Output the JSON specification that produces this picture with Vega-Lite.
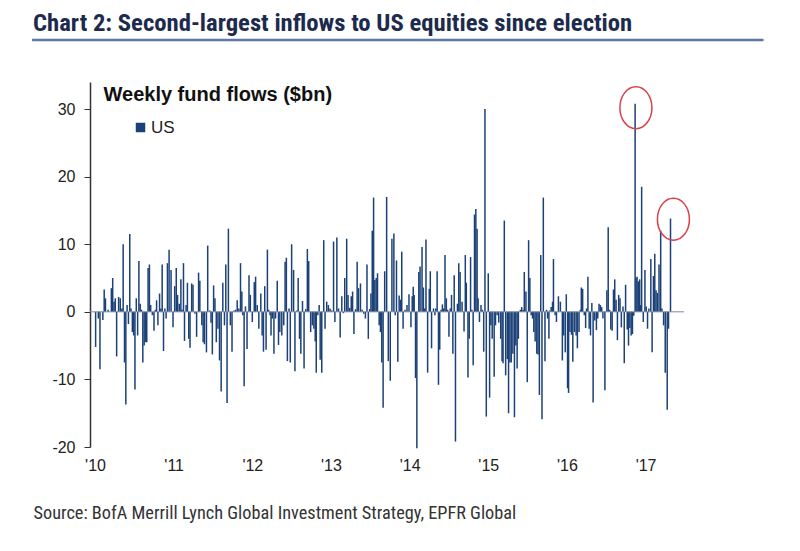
{
"$schema": "https://vega.github.io/schema/vega-lite/v6.json",
"width": 594, "height": 365,
"autosize": {"type": "none"},
"padding": {"left": 90, "top": 82, "right": 116, "bottom": 104},
"background": "white",
"config": {"view": {"stroke": null}, "font": "Liberation Sans"},
"title": {"text": "Chart 2: Second-largest inflows to US equities since election", "anchor": "start", "frame": "group", "dx": -57, "offset": -17, "baseline": "alphabetic", "font": "Liberation Sans Narrow, Roboto Condensed, Liberation Sans", "fontWeight": "bold", "fontSize": 24.7, "color": "#1c2b4d"},
"datasets": {
"one": [{}],
"circles": [{"t": 2016.877, "v": 30.2}, {"t": 2017.354, "v": 13.7}],
"flows": [
{"t":2010.008,"v":-5.2},{"t":2010.042,"v":-1},{"t":2010.063,"v":-8.5},{"t":2010.100,"v":-1.2},{"t":2010.117,"v":3.3},{"t":2010.133,"v":2},{"t":2010.167,"v":0.3},{"t":2010.208,"v":3.5},{"t":2010.225,"v":5},{"t":2010.242,"v":1.5},{"t":2010.258,"v":2},{"t":2010.275,"v":-6.6},{"t":2010.300,"v":2.2},{"t":2010.321,"v":2},{"t":2010.342,"v":0.5},{"t":2010.358,"v":10},{"t":2010.375,"v":-7.5},{"t":2010.392,"v":-13.7},{"t":2010.408,"v":1},{"t":2010.425,"v":-1.8},{"t":2010.442,"v":11.5},{"t":2010.458,"v":0.5},{"t":2010.475,"v":-3},{"t":2010.492,"v":-3.5},{"t":2010.508,"v":-11.5},{"t":2010.525,"v":2},{"t":2010.542,"v":-3.5},{"t":2010.558,"v":7.5},{"t":2010.575,"v":1.2},{"t":2010.592,"v":0.3},{"t":2010.608,"v":-7.5},{"t":2010.625,"v":-5},{"t":2010.642,"v":-4.5},{"t":2010.658,"v":-4.5},{"t":2010.675,"v":6.5},{"t":2010.692,"v":7},{"t":2010.708,"v":1},{"t":2010.729,"v":-0.5},{"t":2010.750,"v":-2.8},{"t":2010.767,"v":0.3},{"t":2010.783,"v":1.7},{"t":2010.800,"v":-2},{"t":2010.821,"v":2.7},{"t":2010.838,"v":0.5},{"t":2010.854,"v":7},{"t":2010.871,"v":-5.8},{"t":2010.888,"v":0.5},{"t":2010.904,"v":-1},{"t":2010.921,"v":7.2},{"t":2010.942,"v":9.2},{"t":2010.967,"v":6.2},{"t":2010.992,"v":-2.3},
{"t":2011.013,"v":3.8},{"t":2011.033,"v":6.5},{"t":2011.050,"v":2.5},{"t":2011.071,"v":1.2},{"t":2011.092,"v":4.8},{"t":2011.108,"v":0.3},{"t":2011.125,"v":7.2},{"t":2011.138,"v":-4.3},{"t":2011.158,"v":1},{"t":2011.175,"v":4.3},{"t":2011.192,"v":-4},{"t":2011.208,"v":-5.3},{"t":2011.229,"v":4.2},{"t":2011.246,"v":4},{"t":2011.271,"v":-0.3},{"t":2011.292,"v":-3.7},{"t":2011.317,"v":5.8},{"t":2011.333,"v":4.6},{"t":2011.358,"v":-2},{"t":2011.375,"v":-4.5},{"t":2011.392,"v":-4.8},{"t":2011.417,"v":-6},{"t":2011.433,"v":9.8},{"t":2011.458,"v":0.2},{"t":2011.475,"v":-1.6},{"t":2011.492,"v":-6.3},{"t":2011.508,"v":3.9},{"t":2011.525,"v":2},{"t":2011.542,"v":-4.5},{"t":2011.563,"v":-2.5},{"t":2011.583,"v":-7.2},{"t":2011.604,"v":-11.8},{"t":2011.625,"v":4.3},{"t":2011.646,"v":-2},{"t":2011.663,"v":7},{"t":2011.679,"v":-13.5},{"t":2011.696,"v":12.3},{"t":2011.721,"v":-2},{"t":2011.742,"v":-5.9},{"t":2011.767,"v":0.2},{"t":2011.788,"v":0.3},{"t":2011.808,"v":1.7},{"t":2011.829,"v":0.5},{"t":2011.850,"v":7.2},{"t":2011.867,"v":3},{"t":2011.879,"v":-0.5},{"t":2011.896,"v":-11},{"t":2011.913,"v":0.8},{"t":2011.933,"v":-5.5},{"t":2011.958,"v":5.4},{"t":2011.975,"v":2.5},
{"t":2012.000,"v":-1.5},{"t":2012.025,"v":4.4},{"t":2012.042,"v":5.2},{"t":2012.063,"v":1},{"t":2012.083,"v":-2.5},{"t":2012.108,"v":2.7},{"t":2012.125,"v":-3.5},{"t":2012.142,"v":-5.9},{"t":2012.158,"v":3.8},{"t":2012.175,"v":-5.6},{"t":2012.192,"v":9.2},{"t":2012.208,"v":0.3},{"t":2012.225,"v":-0.5},{"t":2012.238,"v":-3.5},{"t":2012.254,"v":-1},{"t":2012.275,"v":-6.2},{"t":2012.296,"v":-1},{"t":2012.317,"v":4.6},{"t":2012.333,"v":-4.9},{"t":2012.350,"v":-3},{"t":2012.375,"v":-3.5},{"t":2012.400,"v":-2},{"t":2012.417,"v":7.4},{"t":2012.433,"v":8},{"t":2012.446,"v":-7.3},{"t":2012.467,"v":0.5},{"t":2012.483,"v":-7.5},{"t":2012.500,"v":10},{"t":2012.525,"v":6.2},{"t":2012.542,"v":-8.8},{"t":2012.567,"v":0.2},{"t":2012.583,"v":5},{"t":2012.600,"v":-4},{"t":2012.617,"v":-6.2},{"t":2012.638,"v":1.6},{"t":2012.658,"v":-8.4},{"t":2012.679,"v":0.4},{"t":2012.700,"v":9.3},{"t":2012.717,"v":7.5},{"t":2012.742,"v":-3},{"t":2012.763,"v":-2},{"t":2012.783,"v":-2.5},{"t":2012.800,"v":-4.4},{"t":2012.813,"v":-9},{"t":2012.833,"v":-0.5},{"t":2012.850,"v":1},{"t":2012.863,"v":-7.1},{"t":2012.883,"v":-9},{"t":2012.908,"v":10.6},{"t":2012.925,"v":-2.5},{"t":2012.946,"v":1.5},{"t":2012.967,"v":1},{"t":2012.988,"v":0.5},
{"t":2013.008,"v":0.2},{"t":2013.033,"v":10.4},{"t":2013.050,"v":-1.5},{"t":2013.075,"v":11},{"t":2013.096,"v":0.5},{"t":2013.117,"v":-3.8},{"t":2013.138,"v":2.3},{"t":2013.158,"v":-0.2},{"t":2013.175,"v":5},{"t":2013.200,"v":10.8},{"t":2013.217,"v":2.5},{"t":2013.238,"v":0.6},{"t":2013.258,"v":2.3},{"t":2013.275,"v":3},{"t":2013.292,"v":-3.3},{"t":2013.313,"v":0.4},{"t":2013.333,"v":7.4},{"t":2013.350,"v":3.5},{"t":2013.375,"v":4.2},{"t":2013.396,"v":0.3},{"t":2013.417,"v":-0.3},{"t":2013.438,"v":-1},{"t":2013.458,"v":7},{"t":2013.475,"v":-4},{"t":2013.492,"v":0.4},{"t":2013.508,"v":2.7},{"t":2013.525,"v":12},{"t":2013.542,"v":16.9},{"t":2013.558,"v":4.7},{"t":2013.575,"v":5},{"t":2013.592,"v":5.7},{"t":2013.613,"v":-2},{"t":2013.629,"v":-3},{"t":2013.646,"v":-7.5},{"t":2013.663,"v":-14.2},{"t":2013.683,"v":6},{"t":2013.708,"v":17},{"t":2013.729,"v":-7.3},{"t":2013.754,"v":-10.2},{"t":2013.775,"v":10.8},{"t":2013.800,"v":11.6},{"t":2013.817,"v":-0.5},{"t":2013.833,"v":7.6},{"t":2013.850,"v":-7.4},{"t":2013.867,"v":2.4},{"t":2013.883,"v":1.8},{"t":2013.900,"v":8.9},{"t":2013.917,"v":-2.5},{"t":2013.942,"v":0.3},{"t":2013.967,"v":1},{"t":2013.992,"v":2.6},
{"t":2014.017,"v":-2.3},{"t":2014.033,"v":2.3},{"t":2014.046,"v":3.7},{"t":2014.058,"v":2.5},{"t":2014.075,"v":-9.8},{"t":2014.092,"v":-20.2},{"t":2014.117,"v":5.9},{"t":2014.133,"v":6.7},{"t":2014.158,"v":9.6},{"t":2014.175,"v":3.6},{"t":2014.192,"v":0.5},{"t":2014.208,"v":10.7},{"t":2014.229,"v":-9},{"t":2014.250,"v":3.4},{"t":2014.263,"v":6},{"t":2014.279,"v":-5.4},{"t":2014.304,"v":0.5},{"t":2014.321,"v":-0.5},{"t":2014.333,"v":0.5},{"t":2014.350,"v":6},{"t":2014.367,"v":-10.8},{"t":2014.383,"v":-5.6},{"t":2014.400,"v":0.3},{"t":2014.417,"v":1.1},{"t":2014.433,"v":0.5},{"t":2014.450,"v":8.4},{"t":2014.467,"v":2},{"t":2014.483,"v":0.3},{"t":2014.500,"v":-3.7},{"t":2014.517,"v":0.5},{"t":2014.533,"v":2.5},{"t":2014.550,"v":-6.2},{"t":2014.567,"v":5.4},{"t":2014.583,"v":-19.2},{"t":2014.608,"v":1.2},{"t":2014.625,"v":7.2},{"t":2014.642,"v":5.9},{"t":2014.667,"v":1.5},{"t":2014.692,"v":-2.9},{"t":2014.708,"v":8.4},{"t":2014.721,"v":4.3},{"t":2014.742,"v":-9.7},{"t":2014.758,"v":-4},{"t":2014.775,"v":8.1},{"t":2014.792,"v":0.3},{"t":2014.808,"v":-7.9},{"t":2014.825,"v":14.4},{"t":2014.842,"v":15.2},{"t":2014.858,"v":12.3},{"t":2014.871,"v":2},{"t":2014.888,"v":-1.5},{"t":2014.908,"v":1},{"t":2014.925,"v":0.3},{"t":2014.942,"v":-5.9},{"t":2014.958,"v":30},{"t":2014.975,"v":-15.5},
{"t":2015.000,"v":5.7},{"t":2015.017,"v":-12.7},{"t":2015.033,"v":-2},{"t":2015.050,"v":-4},{"t":2015.075,"v":-9.6},{"t":2015.092,"v":-2},{"t":2015.113,"v":-0.5},{"t":2015.133,"v":-1.6},{"t":2015.158,"v":-4},{"t":2015.175,"v":-7.3},{"t":2015.188,"v":-7.6},{"t":2015.204,"v":13.5},{"t":2015.221,"v":-9.4},{"t":2015.242,"v":-7},{"t":2015.258,"v":-15},{"t":2015.275,"v":-7.5},{"t":2015.292,"v":-7.5},{"t":2015.313,"v":-6.2},{"t":2015.333,"v":-15.6},{"t":2015.350,"v":-5},{"t":2015.367,"v":-8.4},{"t":2015.383,"v":-4},{"t":2015.408,"v":0.3},{"t":2015.425,"v":0.7},{"t":2015.442,"v":0.3},{"t":2015.458,"v":5.9},{"t":2015.479,"v":3},{"t":2015.496,"v":-10.4},{"t":2015.513,"v":10.6},{"t":2015.529,"v":5},{"t":2015.546,"v":-0.5},{"t":2015.563,"v":-1},{"t":2015.579,"v":-3},{"t":2015.596,"v":-4.4},{"t":2015.617,"v":-6.2},{"t":2015.633,"v":-6.3},{"t":2015.650,"v":-12.3},{"t":2015.667,"v":8.4},{"t":2015.683,"v":-15.9},{"t":2015.700,"v":16.9},{"t":2015.721,"v":-7.3},{"t":2015.742,"v":0.3},{"t":2015.754,"v":-1},{"t":2015.771,"v":-4},{"t":2015.783,"v":0.2},{"t":2015.800,"v":0.7},{"t":2015.817,"v":1.5},{"t":2015.829,"v":7.8},{"t":2015.850,"v":-0.5},{"t":2015.867,"v":-1.5},{"t":2015.892,"v":2.3},{"t":2015.917,"v":1.5},{"t":2015.942,"v":-7.2},{"t":2015.958,"v":-3.5},{"t":2015.979,"v":-6},{"t":2015.992,"v":2.6},
{"t":2016.008,"v":-11.3},{"t":2016.021,"v":-12},{"t":2016.038,"v":-3},{"t":2016.058,"v":-3.4},{"t":2016.075,"v":-7.4},{"t":2016.096,"v":-3},{"t":2016.117,"v":-3.5},{"t":2016.133,"v":-5.4},{"t":2016.154,"v":-3},{"t":2016.171,"v":0.3},{"t":2016.183,"v":3.6},{"t":2016.200,"v":3.4},{"t":2016.221,"v":-0.5},{"t":2016.238,"v":-2.4},{"t":2016.250,"v":0.5},{"t":2016.267,"v":5.2},{"t":2016.283,"v":-2.5},{"t":2016.300,"v":-3.5},{"t":2016.317,"v":1.3},{"t":2016.333,"v":-13.4},{"t":2016.354,"v":-1.3},{"t":2016.375,"v":-2.7},{"t":2016.392,"v":-1},{"t":2016.408,"v":1.2},{"t":2016.425,"v":1},{"t":2016.442,"v":0.7},{"t":2016.458,"v":-1},{"t":2016.483,"v":-11.6},{"t":2016.508,"v":3.2},{"t":2016.525,"v":12.5},{"t":2016.542,"v":0.3},{"t":2016.558,"v":-2.6},{"t":2016.575,"v":-2.8},{"t":2016.592,"v":3.3},{"t":2016.608,"v":4.8},{"t":2016.625,"v":1.8},{"t":2016.642,"v":-4.2},{"t":2016.658,"v":2.5},{"t":2016.675,"v":2},{"t":2016.692,"v":-2.3},{"t":2016.713,"v":0.8},{"t":2016.729,"v":-7.6},{"t":2016.746,"v":4},{"t":2016.767,"v":-2.6},{"t":2016.783,"v":-5},{"t":2016.800,"v":-2.4},{"t":2016.817,"v":-3.5},{"t":2016.833,"v":-3.3},{"t":2016.850,"v":-0.6},{"t":2016.867,"v":30.8},{"t":2016.879,"v":5},{"t":2016.892,"v":5.2},{"t":2016.908,"v":4.5},{"t":2016.925,"v":4.8},{"t":2016.938,"v":1},{"t":2016.950,"v":18.5},{"t":2016.971,"v":-1.5},{"t":2016.992,"v":6.2},
{"t":2017.008,"v":0.8},{"t":2017.025,"v":-2.5},{"t":2017.042,"v":0.5},{"t":2017.067,"v":7.8},{"t":2017.083,"v":-6},{"t":2017.100,"v":5.3},{"t":2017.117,"v":8.6},{"t":2017.133,"v":3.2},{"t":2017.150,"v":2.8},{"t":2017.171,"v":7},{"t":2017.192,"v":12},{"t":2017.208,"v":0.5},{"t":2017.229,"v":-2},{"t":2017.250,"v":-9},{"t":2017.275,"v":-14.5},{"t":2017.292,"v":-2.5},{"t":2017.317,"v":13.8}
]
},
"layer": [
{"data": {"name": "flows"},
 "mark": {"type": "bar", "size": 1.5},
 "encoding": {
  "x": {"field": "t", "type": "quantitative",
        "scale": {"domain": [2010, 2017.425], "nice": false, "zero": false},
        "axis": {"values": [2010, 2011, 2012, 2013, 2014, 2015, 2016, 2017], "format": "d", "labelExpr": "\"'\" + slice(datum.label, 2)", "domain": false, "ticks": false, "grid": false, "labelFlush": false, "labelOverlap": false, "labelFontSize": 16, "labelColor": "#222", "labelPadding": 10,
                 "title": "Source: BofA Merrill Lynch Global Investment Strategy, EPFR Global", "titleX": -57, "titleY": 71, "titleAnchor": "start", "titleAlign": "left", "titleBaseline": "alphabetic", "titleFont": "Liberation Sans Narrow, Roboto Condensed, Liberation Sans", "titleFontSize": 18.3, "titleFontWeight": "normal", "titleColor": "#333"}},
  "y": {"field": "v", "type": "quantitative",
        "scale": {"domain": [-20, 34], "nice": false, "zero": false},
        "axis": {"values": [-20, -10, 0, 10, 20, 30], "labelExpr": "'' + datum.value", "grid": false, "domainColor": "#333", "domainWidth": 1.5, "tickColor": "#333", "tickSize": 6, "labelFontSize": 16, "labelColor": "#222", "labelPadding": 9,
                 "title": "Weekly fund flows ($bn)", "titleAngle": 0, "titleAlign": "left", "titleBaseline": "alphabetic", "titleX": 13, "titleY": 18, "titleFontSize": 20, "titleFontWeight": "bold", "titleColor": "#111", "titleFont": "Liberation Sans"}},
  "color": {"datum": "US", "type": "nominal", "scale": {"range": ["#1b4178"]},
            "legend": {"orient": "none", "legendX": 42, "legendY": 37, "title": null, "symbolType": "square", "symbolSize": 90, "symbolStrokeWidth": 0, "symbolOpacity": 1, "labelFontSize": 17, "labelColor": "#222", "labelOffset": 2, "padding": 0}}
 }},
{"data": {"name": "one"},
 "mark": {"type": "rule", "color": "#7c8aa0", "strokeWidth": 1},
 "encoding": {"y": {"datum": 0, "type": "quantitative"}}},
{"data": {"name": "one"},
 "mark": {"type": "rule", "color": "#5b79a3", "strokeWidth": 2.5},
 "encoding": {"x": {"datum": 2009.2, "type": "quantitative"}, "x2": {"datum": 2018.5}, "y": {"datum": 40.2, "type": "quantitative"}}},
{"data": {"name": "circles"},
 "mark": {"type": "point", "filled": false, "shape": "M -0.762 0 A 0.762 1 0 1 0 0.762 0 A 0.762 1 0 1 0 -0.762 0 Z", "size": 1764, "stroke": "#d8404a", "strokeWidth": 1.5, "opacity": 1},
 "encoding": {"x": {"field": "t", "type": "quantitative"}, "y": {"field": "v", "type": "quantitative"}}}
]
}
